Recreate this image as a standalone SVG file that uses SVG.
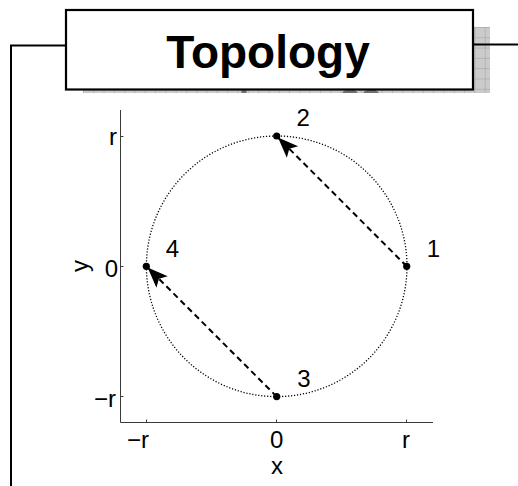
<svg xmlns="http://www.w3.org/2000/svg" width="518" height="486" viewBox="0 0 518 486">
  <style>
    .frame { fill: none; stroke: #000; stroke-width: 2; }
    .lbl { font-family: "Liberation Sans", Arial, sans-serif; font-size: 24px; fill: #000; }
    .axis { fill: none; stroke: #3a3a3a; stroke-width: 1; }
    .conn { fill: none; stroke: #000; stroke-width: 2; stroke-dasharray: 6 4; }
    .orbit { fill: none; stroke: #000; stroke-width: 1.3; stroke-dasharray: 1.2 1.8; }
    .dot { fill: #000; }
  </style>
  <defs>
    <pattern id="grid" patternUnits="userSpaceOnUse" x="83" y="27" width="10.3" height="10.3">
      <rect width="10.3" height="10.3" fill="#cbcbcb"/>
      <path d="M0,0 H10.3 M0,0 V10.3" stroke="#9c9c9c" stroke-width="1"/>
    </pattern>
    <clipPath id="strip">
      <rect x="83" y="89" width="407" height="4"/>
    </clipPath>
    <marker id="vback" markerUnits="userSpaceOnUse" viewBox="-21 -9 22 18" refX="0" refY="0" markerWidth="22" markerHeight="18" orient="auto">
      <path d="M0,0 L-20.5,-8 L-16,0 L-20.5,8 Z" fill="#000"/>
    </marker>
  </defs>

  <g id="title">
    <rect x="83" y="27" width="407" height="66" fill="url(#grid)"/>
    <g clip-path="url(#strip)" fill="#707070">
      <rect x="241.5" y="85" width="5" height="10"/>
      <ellipse cx="350" cy="97" rx="9" ry="8"/>
      <ellipse cx="371" cy="97" rx="9" ry="8"/>
    </g>
    <rect x="66" y="10" width="407" height="79.5" fill="#fff" stroke="#000" stroke-width="2.2"/>
    <text x="268" y="68" text-anchor="middle" font-family="'Liberation Sans', Arial, sans-serif" font-weight="bold" font-size="46">Topology</text>
  </g>

  <g id="frame">
    <polyline class="frame" points="66,45.5 11,45.5 11,486"/>
    <line class="frame" x1="473" y1="44.5" x2="518" y2="44.5"/>
  </g>

  <g id="axes">
    <polyline class="axis" points="120.5,110 120.5,422.5 433,422.5"/>
    <path class="axis" d="M120.5,136.5 h3 M120.5,266.5 h3 M120.5,396.5 h3 M146.5,422.5 v-3 M276.5,422.5 v-3 M406.5,422.5 v-3"/>
    <text class="lbl" x="117" y="145" text-anchor="end">r</text>
    <text class="lbl" x="118" y="277" text-anchor="end">0</text>
    <text class="lbl" x="116" y="407" text-anchor="end">−r</text>
    <text class="lbl" x="127" y="448">−r</text>
    <text class="lbl" x="276.7" y="447.5" text-anchor="middle">0</text>
    <text class="lbl" x="406" y="448" text-anchor="middle">r</text>
    <text class="lbl" x="277" y="474" text-anchor="middle">x</text>
    <text class="lbl" x="0" y="0" text-anchor="middle" transform="translate(88,266) rotate(-90)">y</text>
  </g>

  <g id="orbit">
    <circle class="orbit" cx="276.7" cy="266.3" r="130.3"/>
  </g>

  <g id="connectors">
    <line class="conn" x1="406.7" y1="266.3" x2="278" y2="137.5" marker-end="url(#vback)"/>
    <line class="conn" x1="276.7" y1="396.6" x2="147.6" y2="267.5" marker-end="url(#vback)"/>
  </g>

  <g id="node1">
    <circle class="dot" cx="406.7" cy="266.3" r="3.6"/>
    <text class="lbl" x="433.4" y="257" text-anchor="middle">1</text>
  </g>
  <g id="node2">
    <circle class="dot" cx="276.7" cy="136" r="3.6"/>
    <text class="lbl" x="303.3" y="126" text-anchor="middle">2</text>
  </g>
  <g id="node3">
    <circle class="dot" cx="276.7" cy="396.6" r="3.6"/>
    <text class="lbl" x="304" y="387" text-anchor="middle">3</text>
  </g>
  <g id="node4">
    <circle class="dot" cx="146.3" cy="266.3" r="3.6"/>
    <text class="lbl" x="172.5" y="257" text-anchor="middle">4</text>
  </g>
</svg>
